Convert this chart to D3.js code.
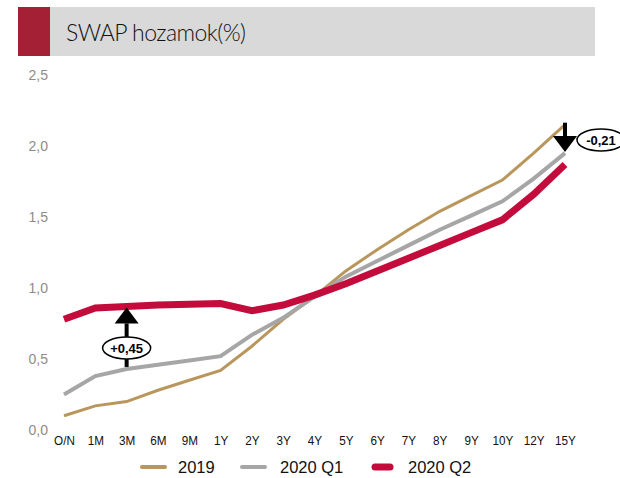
<!DOCTYPE html>
<html>
<head>
<meta charset="utf-8">
<script src="https://cdn.jsdelivr.net/npm/d3@7"></script>
<style>
  body { margin: 0; background: #fff; }
  svg { display: block; }
</style>
</head>
<body>
<svg width="620" height="478"></svg>
<script>
var tenors = ["O/N", "1M", "3M", "6M", "9M", "1Y", "2Y", "3Y", "4Y", "5Y", "6Y", "7Y", "8Y", "9Y", "10Y", "12Y", "15Y"];

var swap2019 = [0.10, 0.17, 0.20, 0.28, 0.35, 0.42, 0.59, 0.78, 0.94, 1.12, 1.27, 1.41, 1.54, 1.65, 1.76, 1.95, 2.15];
var swap2020q1 = [0.25, 0.38, 0.43, 0.46, 0.49, 0.52, 0.67, 0.79, 0.94, 1.08, 1.19, 1.30, 1.41, 1.51, 1.61, 1.77, 1.95];
var swap2020q2 = [0.78, 0.86, 0.87, 0.88, 0.885, 0.89, 0.84, 0.88, 0.95, 1.03, 1.12, 1.21, 1.30, 1.39, 1.48, 1.66, 1.87];

var yTicks = [0, 0.5, 1, 1.5, 2, 2.5];

var seriesNames = ["2019", "2020 Q1", "2020 Q2"];
var seriesColors = ["#b9965b", "#a6a6a6", "#c40c3c"];
var seriesWidths = [3, 4, 7];

var svg = d3.select("svg");

// title bar
svg.append("rect").attr("x", 50).attr("y", 7).attr("width", 545).attr("height", 49).attr("fill", "#d9d9d9");
svg.append("rect").attr("x", 18).attr("y", 7).attr("width", 32).attr("height", 49).attr("fill", "#a32035");
svg.append("text")
    .attr("x", 66).attr("y", 41)
    .attr("font-family", "Lato, 'Open Sans', sans-serif")
    .attr("font-weight", 300)
    .attr("font-size", 23)
    .attr("fill", "#111")
    .attr("textLength", 180)
    .text("SWAP hozamok(%)");

var x = d3.scalePoint().domain(tenors).range([64, 565]);
var y = d3.scaleLinear().domain([0, 2.5]).range([430, 75]);

// y axis labels
var yAxis = d3.axisLeft(y).tickValues(yTicks).tickSize(0).tickPadding(0)
    .tickFormat(function(d) { return d3.format(".1f")(d).replace(".", ","); });
var gy = svg.append("g").attr("transform", "translate(48,0)").call(yAxis);
gy.select(".domain").remove();
gy.selectAll("text").attr("font-family", "Liberation Sans, Arial, sans-serif").attr("font-size", 14).attr("fill", "#8c8c8c");

// x axis labels
var xAxis = d3.axisBottom(x).tickSize(0).tickPadding(0);
var gx = svg.append("g").attr("transform", "translate(0,436)").call(xAxis);
gx.select(".domain").remove();
gx.selectAll("text").attr("font-family", "Liberation Sans, Arial, sans-serif").attr("font-size", 13).attr("fill", "#111")
    .attr("transform", "scale(0.9,1)");

var line = d3.line()
    .x(function(d, i) { return x(tenors[i]); })
    .y(function(d) { return y(d); });

[swap2019, swap2020q1, swap2020q2].forEach(function(s, i) {
    svg.append("path")
        .datum(s)
        .attr("d", line)
        .attr("fill", "none")
        .attr("stroke", seriesColors[i])
        .attr("stroke-width", seriesWidths[i])
        .attr("stroke-linejoin", "miter");
});

// arrows
function arrow(x0, y0, y1) {
    var dir = y1 < y0 ? 1 : -1;
    var headLen = 16, headW = 12;
    svg.append("line")
        .attr("x1", x0).attr("y1", y0)
        .attr("x2", x0).attr("y2", y1 + dir * headLen)
        .attr("stroke", "#000").attr("stroke-width", 4);
    svg.append("path")
        .attr("d", "M" + (x0 - headW) + "," + (y1 + dir * headLen) + "L" + x0 + "," + y1 + "L" + (x0 + headW) + "," + (y1 + dir * headLen) + "Z")
        .attr("fill", "#000");
}

function bubble(cx, cy, label) {
    svg.append("ellipse").attr("cx", cx).attr("cy", cy).attr("rx", 24).attr("ry", 11)
        .attr("fill", "#fff").attr("stroke", "#000").attr("stroke-width", 1.5);
    svg.append("text").attr("x", cx).attr("y", cy + 4.5)
        .attr("text-anchor", "middle")
        .attr("font-family", "Liberation Sans, Arial, sans-serif")
        .attr("font-weight", "bold").attr("font-size", 13)
        .text(label);
}

var i3m = tenors.indexOf("3M");
arrow(x("3M"), y(swap2020q1[i3m]) - 2, y(swap2020q2[i3m]) + 1);
bubble(x("3M"), 348, "+0,45");

var i15 = tenors.indexOf("15Y");
arrow(x("15Y"), y(swap2019[i15]) - 2, y(swap2020q1[i15]) - 1);
bubble(601, 140, "-0,21");

// legend
var legendX = [142, 242, 375];
var legendTextX = [178, 280, 408];
var swatchLen = [23, 23, 15];
seriesNames.forEach(function(n, i) {
    svg.append("line")
        .attr("x1", legendX[i]).attr("x2", legendX[i] + swatchLen[i])
        .attr("y1", 467).attr("y2", 467)
        .attr("stroke", seriesColors[i]).attr("stroke-width", i == 2 ? 7 : 4)
        .attr("stroke-linecap", "round");
    svg.append("text")
        .attr("x", legendTextX[i]).attr("y", 473)
        .attr("font-family", "Liberation Sans, Arial, sans-serif")
        .attr("font-size", 16.5).attr("fill", "#111")
        .text(n);
});
</script>
</body>
</html>
